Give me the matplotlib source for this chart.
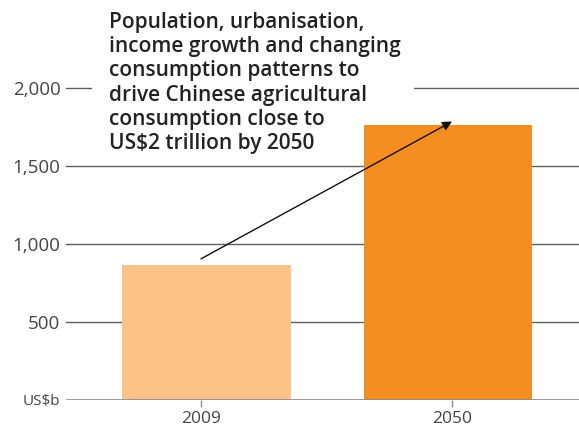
"""China agricultural consumption bar chart, 2009 vs 2050."""

import matplotlib
matplotlib.use('Agg')
import matplotlib.pyplot as plt
import matplotlib.patches as patches

# Data (US$b)
years = ['2009', '2050']
values = [865, 1763]
bar_colors = ['#FCC388', '#F58E21']
ytick_vals = [0, 500, 1000, 1500, 2000]
ytick_labels = ['US$b', '500', '1,000', '1,500', '2,000']
title = ('Population, urbanisation,\nincome growth and changing\n'
         'consumption patterns to\ndrive Chinese agricultural\n'
         'consumption close to\nUS$2 trillion by 2050')

W, H = 579, 428
plt.rcParams['font.family'] = ['Open Sans', 'DejaVu Sans']

fig = plt.figure(figsize=(W / 100, H / 100), dpi=100)
fig.patch.set_facecolor('white')
# axes box in pixel terms: x 66..579, y 88 (2000) .. 400 (0)
ax = fig.add_axes([66 / W, (H - 400) / H, 1 - 66 / W, (400 - 88) / H])

xs = list(range(len(years)))
bar_pos = [0.022, 0.984]  # bars sit slightly off the tick marks in the original
ax.bar(bar_pos, values, width=0.673, color=bar_colors, zorder=2)

ax.set_xlim(-0.538, 1.506)
ax.set_ylim(0, 2000)

# gridlines
grid_col = '#5f5f5f'
for v in ytick_vals[1:]:
    ax.axhline(v, color=grid_col, lw=1.0, zorder=1, clip_on=False)
ax.axhline(0, color='#8a8a8a', lw=1.2, zorder=3)

for s in ax.spines.values():
    s.set_visible(False)

ax.set_yticks(ytick_vals)
ax.set_yticklabels(ytick_labels)
ax.tick_params(axis='y', length=0, pad=4, labelsize=13.5, labelcolor='#444444')
ax.get_yticklabels()[0].set_fontsize(11)

ax.set_xticks(xs)
ax.set_xticklabels(years)
ax.tick_params(axis='x', length=5, width=1, color='#8a8a8a', pad=3,
               labelsize=12.5, labelcolor='#444444')

# white patch hiding the 2000 gridline behind the headline
fig.patches.append(patches.Rectangle((92 / W, (H - 96) / H), (414 - 92) / W, 16 / H,
                                     transform=fig.transFigure, facecolor='white',
                                     edgecolor='none', zorder=5))

fig.text(109 / W, (H - 12) / H, title, ha='left', va='top', fontsize=15,
         color='#222222', linespacing=1.2, zorder=6, fontweight='semibold')

ax.annotate('', xy=(1.0, 1785), xytext=(0.0, 905),
            arrowprops=dict(arrowstyle='-|>', color='#111111', lw=1.0,
                            mutation_scale=14, shrinkA=0, shrinkB=0),
            annotation_clip=False, zorder=7)

fig.savefig('out.png', dpi=100, facecolor='white')
